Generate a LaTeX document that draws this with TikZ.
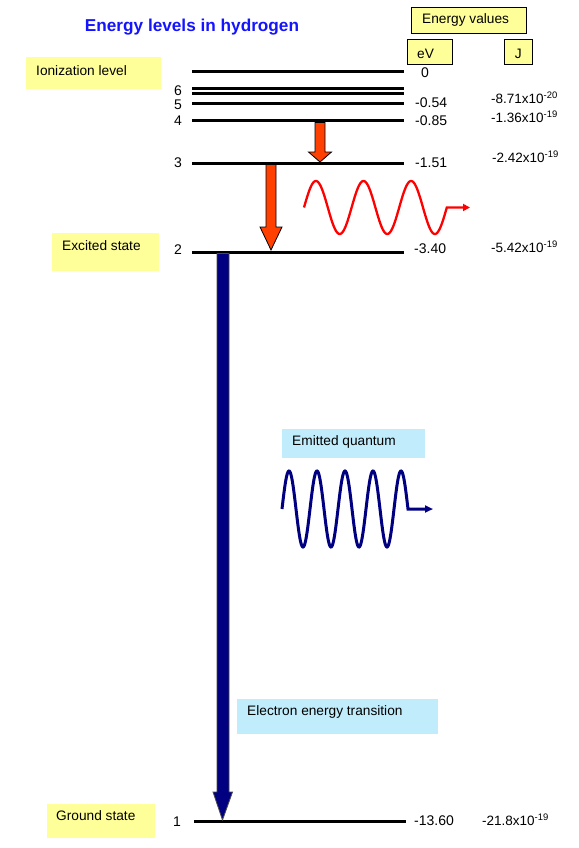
\documentclass[tikz,border=0pt]{standalone}
\usepackage{fontspec}
\setmainfont{Liberation Sans}
\usetikzlibrary{arrows.meta,calc}
\definecolor{ybox}{HTML}{FFFF99}
\definecolor{cbox}{HTML}{C0ECFC}
\definecolor{titleblue}{RGB}{20,20,255}
\definecolor{redarrow}{HTML}{FF4000}
\definecolor{navyarrow}{HTML}{000080}
\definecolor{wavered}{HTML}{FF0000}
\begin{document}
\begin{tikzpicture}[x=1pt,y=-1pt,
  lbl/.style={inner sep=0pt, font=\fontsize{13.7}{15}\selectfont, anchor=west},
  num/.style={inner sep=0pt, font=\fontsize{14}{16}\selectfont, anchor=west},
  jval/.style={inner sep=0pt, font=\fontsize{13.5}{15}\selectfont, anchor=west},
  lvl/.style={inner sep=0pt, font=\fontsize{14}{16}\selectfont},
  yellowbox/.style={fill=ybox, draw=none, inner sep=0pt, anchor=north west},
  framedbox/.style={fill=ybox, draw=black, line width=0.8pt, inner sep=0pt, anchor=north west},
  cyanbox/.style={fill=cbox, draw=none, inner sep=0pt, anchor=north west},
  level/.style={line width=3pt},
  fatred/.style={fill=redarrow, draw=black, line width=0.8pt, line join=miter},
  fatblue/.style={fill=navyarrow, draw=black!70, line width=0.8pt, line join=miter},
  redwave/.style={draw=wavered, line width=2.3pt, -{Triangle[length=7pt,width=7pt]}},
  bluewave/.style={draw=navyarrow, line width=3pt, -{Triangle[length=8pt,width=7pt]}},
  ]
\useasboundingbox (0,0) rectangle (578,848);
\fill[white] (0,0) rectangle (578,848);

% title
\node[inner sep=0pt, font=\fontsize{17.2}{20}\selectfont\bfseries, text=titleblue] (title) at (192,27) {Energy levels in hydrogen};

% header boxes
\node[framedbox, minimum width=115pt, minimum height=26pt] (evals) at (411,7) {};
\node[lbl] (evalsT) at ($(evals.west)+(11,0)$) {Energy values};
\node[framedbox, minimum width=45pt, minimum height=25pt] (ev) at (407,39) {};
\node[lbl] (evT) at ($(ev.west)+(10,1.5)$) {eV};
\node[framedbox, minimum width=28pt, minimum height=25pt] (jb) at (504,39) {};
\node[lbl, anchor=center] (jT) at ($(jb.center)+(0,1.5)$) {J};

% side label boxes
\node[yellowbox, minimum width=135pt, minimum height=32pt] (ion) at (26,57) {};
\node[lbl] (ionT) at ($(ion.west)+(10,-2.5)$) {Ionization level};
\node[yellowbox, minimum width=107pt, minimum height=38pt] (exc) at (52,233) {};
\node[lbl] (excT) at ($(exc.west)+(10,-7)$) {Excited state};
\node[yellowbox, minimum width=108pt, minimum height=34pt] (gnd) at (47,804) {};
\node[lbl] (gndT) at ($(gnd.west)+(9,-6)$) {Ground state};
\node[cyanbox, minimum width=143pt, minimum height=29pt] (emq) at (282,429) {};
\node[lbl] (emqT) at ($(emq.west)+(10,-1.5)$) {Emitted quantum};
\node[cyanbox, minimum width=201pt, minimum height=35pt] (eet) at (237,699) {};
\node[lbl] (eetT) at ($(eet.west)+(10,-4.5)$) {Electron energy transition};

% energy levels
\foreach \n/\y in {0/72, 6/89, 7/94, 5/104, 4/121, 3/163, 2/252} {
  \coordinate (L\n a) at (192,\y);
  \coordinate (L\n b) at (404,\y);
  \draw[level] (L\n a) -- (L\n b);
}
\coordinate (L1a) at (194,821);
\coordinate (L1b) at (406,821);
\draw[level] (L1a) -- (L1b);

% level numbers
\node[lvl] (n6) at (178,91) {6};
\node[lvl] (n5) at (178,105) {5};
\node[lvl] (n4) at (178,121) {4};
\node[lvl] (n3) at (178,163) {3};
\node[lvl] (n2) at (178,250) {2};
\node[lvl] (n1) at (177,822) {1};

% eV values
\node[num] (e0) at (421,73) {0};
\node[num] (e5) at (415,103) {-0.54};
\node[num] (e4) at (415,121) {-0.85};
\node[num] (e3) at (415,163) {-1.51};
\node[num] (e2) at (414,249) {-3.40};
\node[num] (e1) at (414,821) {-13.60};

% J values
\node[jval] (j5) at (491,98) {-8.71x10\textsuperscript{-20}};
\node[jval] (j4) at (491,117) {-1.36x10\textsuperscript{-19}};
\node[jval] (j3) at (492,157) {-2.42x10\textsuperscript{-19}};
\node[jval] (j2) at (491,247) {-5.42x10\textsuperscript{-19}};
\node[jval] (j1) at (482,820) {-21.8x10\textsuperscript{-19}};

% transition arrows
\coordinate (t43) at (320,122.5);
\coordinate (h43) at (320,152);
\coordinate (p43) at (320,162);
\draw[fatred] ($(t43)+(-5,0)$) -- ($(t43)+(5,0)$) -- ($(h43)+(5,0)$) -- ($(h43)+(11.5,0)$)
  -- (p43) -- ($(h43)+(-11.5,0)$) -- ($(h43)+(-5,0)$) -- cycle;

\coordinate (t32) at (271,164.5);
\coordinate (h32) at (271,227);
\coordinate (p32) at (271,250);
\draw[fatred] ($(t32)+(-5,0)$) -- ($(t32)+(5,0)$) -- ($(h32)+(5,0)$) -- ($(h32)+(11,0)$)
  -- (p32) -- ($(h32)+(-11,0)$) -- ($(h32)+(-5,0)$) -- cycle;

\coordinate (t21) at (223,253.5);
\coordinate (h21) at (223,792);
\coordinate (p21) at (222.5,820);
\draw[fatblue] ($(t21)+(-6,0)$) -- ($(t21)+(6,0)$) -- ($(h21)+(6,0)$) -- ($(h21)+(9.5,0)$)
  -- (p21) -- ($(h21)+(-10,0)$) -- ($(h21)+(-6,0)$) -- cycle;

% waves
\coordinate (rwEnd) at (470,207.5);
\draw[redwave] plot[domain=0:1080, samples=181, smooth] ({304+\x/360*47.6},{207.5-26.5*sin(\x)}) -- (rwEnd);
\coordinate (bwEnd) at (433,509);
\draw[bluewave] plot[domain=0:1620, samples=241, smooth] ({282+\x/360*28},{509-38*sin(\x)}) -- (bwEnd);
\end{tikzpicture}
\end{document}
